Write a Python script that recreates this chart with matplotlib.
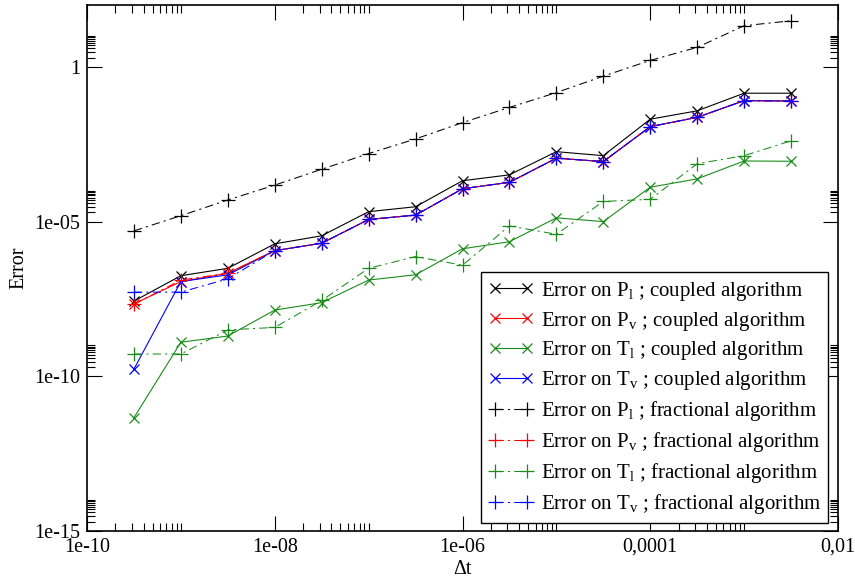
import matplotlib
matplotlib.use('Agg')
import matplotlib.pyplot as plt
from matplotlib.ticker import FixedLocator, FixedFormatter, NullFormatter

# time steps (half decades from 10^-9.5 to 10^-2.5)
dt = [3.16e-10, 1e-09, 3.16e-09, 1e-08, 3.16e-08, 1e-07, 3.16e-07, 1e-06,
      3.16e-06, 1e-05, 3.16e-05, 1e-04, 3.16e-04, 1e-03, 3.16e-03]

# coupled algorithm
cpl_Pl = [2.69e-08, 1.78e-07, 3.09e-07, 1.91e-06, 3.47e-06, 2.09e-05, 3.02e-05, 2.09e-04,
          3.24e-04, 1.82e-03, 1.35e-03, 2.04e-02, 3.80e-02, 1.41e-01, 1.41e-01]
cpl_Pv = [2.19e-08, 1.15e-07, 2.14e-07, 1.15e-06, 2.00e-06, 1.17e-05, 1.62e-05, 1.15e-04,
          1.86e-04, 1.12e-03, 8.70e-04, 1.17e-02, 2.34e-02, 8.10e-02, 7.90e-02]
cpl_Tl = [4.57e-12, 1.26e-09, 2.00e-09, 1.38e-08, 2.40e-08, 1.29e-07, 1.91e-07, 1.32e-06,
          2.24e-06, 1.32e-05, 1.00e-05, 1.29e-04, 2.40e-04, 9.10e-04, 8.90e-04]
cpl_Tv = [1.70e-10, 1.15e-07, 1.90e-07, 1.15e-06, 2.00e-06, 1.17e-05, 1.62e-05, 1.15e-04,
          1.86e-04, 1.12e-03, 8.70e-04, 1.17e-02, 2.34e-02, 8.10e-02, 7.90e-02]

# fractional algorithm
frac_Pl = [5.0e-06, 1.55e-05, 5.0e-05, 1.51e-04, 4.9e-04, 1.58e-03, 4.68e-03, 1.58e-02,
           4.9e-02, 1.48e-01, 5.0e-01, 1.62, 4.27, 21.4, 30.9]
frac_Pv = [2.10e-08, 1.29e-07, 2.14e-07, 1.15e-06, 2.00e-06, 1.17e-05, 1.62e-05, 1.15e-04,
           1.86e-04, 1.12e-03, 8.70e-04, 1.17e-02, 2.34e-02, 8.10e-02, 7.90e-02]
frac_Tl = [5.25e-10, 5.25e-10, 3.16e-09, 3.80e-09, 2.82e-08, 3.09e-07, 7.40e-07, 3.89e-07,
           7.24e-06, 3.89e-06, 4.47e-05, 5.25e-05, 7.40e-04, 1.35e-03, 4.07e-03]
frac_Tv = [5.25e-08, 5.25e-08, 1.41e-07, 1.15e-06, 2.00e-06, 1.17e-05, 1.62e-05, 1.15e-04,
           1.86e-04, 1.12e-03, 8.70e-04, 1.17e-02, 2.34e-02, 8.10e-02, 7.90e-02]

x_major = [1e-10, 1e-08, 1e-06, 1e-04, 1e-02]
x_labels = ['1e-10', '1e-08', '1e-06', '0,0001', '0,01']
y_major = [1e-15, 1e-10, 1e-05, 1]
y_labels = ['1e-15', '1e-10', '1e-05', '1']

plt.rcParams['font.family'] = ['Liberation Serif', 'DejaVu Serif']
plt.rcParams['mathtext.fontset'] = 'custom'
plt.rcParams['mathtext.rm'] = 'Liberation Serif'

green = '#1a8c1a'
fs = 14.5
fs_leg = 15

fig = plt.figure(figsize=(8.55, 5.82), dpi=100)
fig.subplots_adjust(left=87/855, right=838/855, top=1-5/582, bottom=1-531/582)
ax = fig.add_subplot(111)

solid = dict(linestyle='-', linewidth=0.8, marker='x', markersize=7.5, markeredgewidth=0.9)
dashd = dict(linestyle=(0, (8, 4, 2, 4)), linewidth=0.75, marker='+', markersize=10,
             markeredgewidth=0.9)

ax.plot(dt, cpl_Pl, color='black', label=r'Error on P$_\mathrm{l}$ ; coupled algorithm', **solid)
ax.plot(dt, cpl_Pv, color='red', label=r'Error on P$_\mathrm{v}$ ; coupled algorithm', **solid)
ax.plot(dt, cpl_Tl, color=green, label=r'Error on T$_\mathrm{l}$ ; coupled algorithm', **solid)
ax.plot(dt, cpl_Tv, color='blue', label=r'Error on T$_\mathrm{v}$ ; coupled algorithm', **solid)
ax.plot(dt, frac_Pl, color='black', label=r'Error on P$_\mathrm{l}$ ; fractional algorithm', **dashd)
ax.plot(dt, frac_Pv, color='red', label=r'Error on P$_\mathrm{v}$ ; fractional algorithm', **dashd)
ax.plot(dt, frac_Tl, color=green, label=r'Error on T$_\mathrm{l}$ ; fractional algorithm', **dashd)
ax.plot(dt, frac_Tv, color='blue', label=r'Error on T$_\mathrm{v}$ ; fractional algorithm', **dashd)

ax.set_xscale('log')
ax.set_yscale('log')
ax.set_xlim(1e-10, 1e-02)
ax.set_ylim(1e-15, 1e2)

# grace style ticks: minors only in the first decade after each major
x_minor = [k * 10.0**e for e in (-10, -8, -6, -4) for k in range(2, 11)]
y_minor = [k * 10.0**e for e in (-15, -10, -5, 0) for k in range(2, 11)]
ax.xaxis.set_major_locator(FixedLocator(x_major))
ax.xaxis.set_major_formatter(FixedFormatter(x_labels))
ax.xaxis.set_minor_locator(FixedLocator(x_minor))
ax.xaxis.set_minor_formatter(NullFormatter())
ax.yaxis.set_major_locator(FixedLocator(y_major))
ax.yaxis.set_major_formatter(FixedFormatter(y_labels))
ax.yaxis.set_minor_locator(FixedLocator(y_minor))
ax.yaxis.set_minor_formatter(NullFormatter())

ax.tick_params(which='both', direction='in', top=True, right=True, width=0.8, labelsize=fs)
ax.tick_params(which='major', length=10.5, pad=5)
ax.tick_params(which='minor', length=5.5)
for sp in ax.spines.values():
    sp.set_linewidth(1.2)

ax.set_xlabel('Δt', fontsize=fs)
ax.set_ylabel('Error', fontsize=fs)
ax.xaxis.set_label_coords(0.5, -0.055)
ax.yaxis.set_label_coords(-0.078, 0.5)

leg = ax.legend(loc='lower right', bbox_to_anchor=(0.987, 0.015), fontsize=fs_leg,
                numpoints=2, handlelength=2.14, handletextpad=0.35, labelspacing=0.33,
                borderpad=0.35, borderaxespad=0, fancybox=False, framealpha=1,
                edgecolor='black')
leg.get_frame().set_linewidth(1.0)

fig.savefig('out.png', dpi=100)
